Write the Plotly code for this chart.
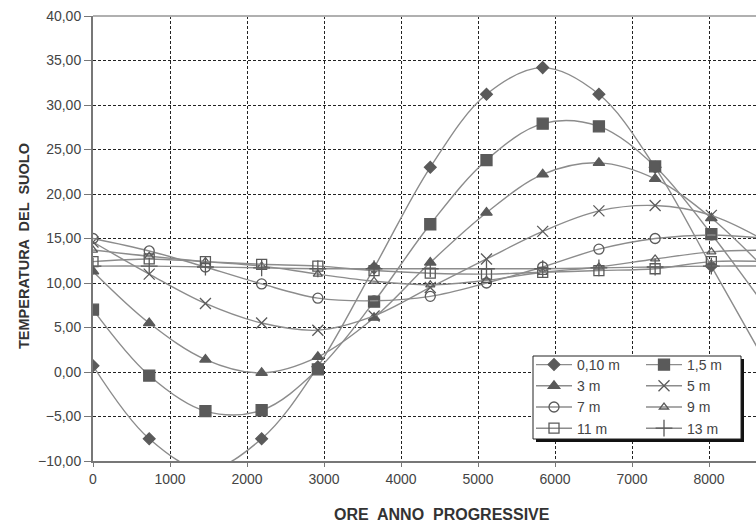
import plotly.graph_objects as go

# ---- data ----
hours = [0, 730, 1460, 2190, 2920, 3650, 4380, 5110, 5840, 6570, 7300, 8030, 8760]
series_names = ["0,10 m", "1,5 m", "3 m", "5 m", "7 m", "9 m", "11 m", "13 m"]
t_010 = [0.7, -7.5, -11.0, -7.5, 0.6, 11.7, 23.0, 31.2, 34.2, 31.2, 23.0, 11.9, 0.7]
t_15 = [7.0, -0.4, -4.4, -4.3, 0.3, 7.9, 16.6, 23.8, 27.9, 27.6, 23.1, 15.5, 7.0]
t_3 = [11.3, 5.5, 1.4, -0.1, 1.7, 6.1, 12.3, 17.9, 22.2, 23.5, 21.7, 17.3, 11.3]
t_5 = [14.6, 11.0, 7.7, 5.5, 4.7, 6.3, 9.5, 12.7, 15.8, 18.1, 18.7, 17.6, 14.6]
t_7 = [15.0, 13.6, 11.8, 9.9, 8.3, 8.0, 8.5, 10.0, 11.8, 13.8, 15.0, 15.4, 15.0]
t_9 = [13.7, 13.0, 12.4, 11.9, 11.0, 10.2, 9.8, 10.3, 11.2, 11.8, 12.7, 13.5, 13.7]
t_11 = [12.4, 12.7, 12.4, 12.1, 11.9, 11.4, 11.1, 11.0, 11.2, 11.4, 11.6, 12.4, 12.4]
t_13 = [11.9, 11.9, 11.8, 11.7, 11.6, 11.6, 11.6, 11.6, 11.6, 11.7, 11.8, 11.9, 11.9]
series_values = [t_010, t_15, t_3, t_5, t_7, t_9, t_11, t_13]
y_ticks = [-10, -5, 0, 5, 10, 15, 20, 25, 30, 35, 40]
x_ticks = [0, 1000, 2000, 3000, 4000, 5000, 6000, 7000, 8000]

# ---- styles ----
symbols = ["diamond", "square", "triangle-up", "x-thin-open", "circle-open",
           "triangle-up-open", "square-open", "cross-thin-open"]
sizes = [9, 11, 10, 11, 10, 8, 10, 12]
legend_of = ["legend", "legend2"] * 4   # two legend columns
LINE = "#8c8c8c"
MARK = "#5a5a5a"
FONT = "Liberation Sans, Arial, sans-serif"

fig = go.Figure()
for name, vals, sym, sz, lg in zip(series_names, series_values, symbols, sizes, legend_of):
    fig.add_trace(go.Scatter(
        x=hours, y=vals, name=name, mode="lines+markers", legend=lg,
        line=dict(color=LINE, width=1.4, shape="spline", smoothing=1.0),
        marker=dict(symbol=sym, size=sz, color=MARK,
                    line=dict(color=MARK, width=1.3)),
        cliponaxis=True,
    ))

W, H = 756, 523
L, T, B = 93, 16, 62
pw, ph = W - L, H - T - B

def px_x(p):
    return (p - L) / pw

def px_y(p):
    return (H - B - p) / ph

# legend box with shadow
fig.add_shape(type="rect", xref="paper", yref="paper",
              x0=px_x(536), x1=px_x(744), y0=px_y(442), y1=px_y(359),
              fillcolor="#111", line=dict(width=0), layer="above")
fig.add_shape(type="rect", xref="paper", yref="paper",
              x0=px_x(533), x1=px_x(741), y0=px_y(439), y1=px_y(356),
              fillcolor="white", line=dict(color="#222", width=1), layer="above")
# top frame line
fig.add_shape(type="line", xref="paper", yref="paper", x0=0, x1=1, y0=1, y1=1,
              line=dict(color="#b0b0b0", width=2), layer="above")

legend_common = dict(
    yanchor="top", xanchor="left", bgcolor="rgba(0,0,0,0)", borderwidth=0,
    font=dict(family=FONT, size=14, color="#444"), itemwidth=36, tracegroupgap=0,
)

fig.update_layout(
    width=W, height=H,
    margin=dict(l=L, r=0, t=T, b=B),
    paper_bgcolor="white", plot_bgcolor="white",
    separators=",.",
    font=dict(family=FONT, size=14, color="#444"),
    showlegend=True,
    legend=dict(x=px_x(531), y=px_y(349), **legend_common),
    legend2=dict(x=px_x(641), y=px_y(349), **legend_common),
    xaxis=dict(
        range=[0, 8610], tickvals=x_ticks, ticktext=[str(v) for v in x_ticks],
        showgrid=True, gridcolor="#222", griddash="3px,2px", gridwidth=1,
        showline=True, linecolor="#777", linewidth=2,
        ticks="outside", ticklen=4, tickcolor="#777",
        zeroline=False, tickfont=dict(size=14, color="#444"),
    ),
    yaxis=dict(
        range=[-10, 40], tickvals=y_ticks, tickformat=".2f",
        showgrid=True, gridcolor="#222", griddash="3px,2px", gridwidth=1,
        showline=True, linecolor="#777", linewidth=2,
        ticks="outside", ticklen=7, tickcolor="#777",
        zeroline=False, tickfont=dict(size=14, color="#444"),
    ),
    annotations=[
        dict(text="<b>ORE  ANNO  PROGRESSIVE</b>", xref="paper", yref="paper",
             x=px_x(442), y=px_y(514), xanchor="center", yanchor="middle",
             showarrow=False, font=dict(family=FONT, size=16, color="#333")),
        dict(text="<b>TEMPERATURA  DEL  SUOLO</b>", xref="paper", yref="paper",
             x=px_x(24), y=px_y(246), xanchor="center", yanchor="middle",
             showarrow=False, textangle=-90,
             font=dict(family=FONT, size=14.5, color="#333")),
    ],
)

fig.write_html("out.html")
